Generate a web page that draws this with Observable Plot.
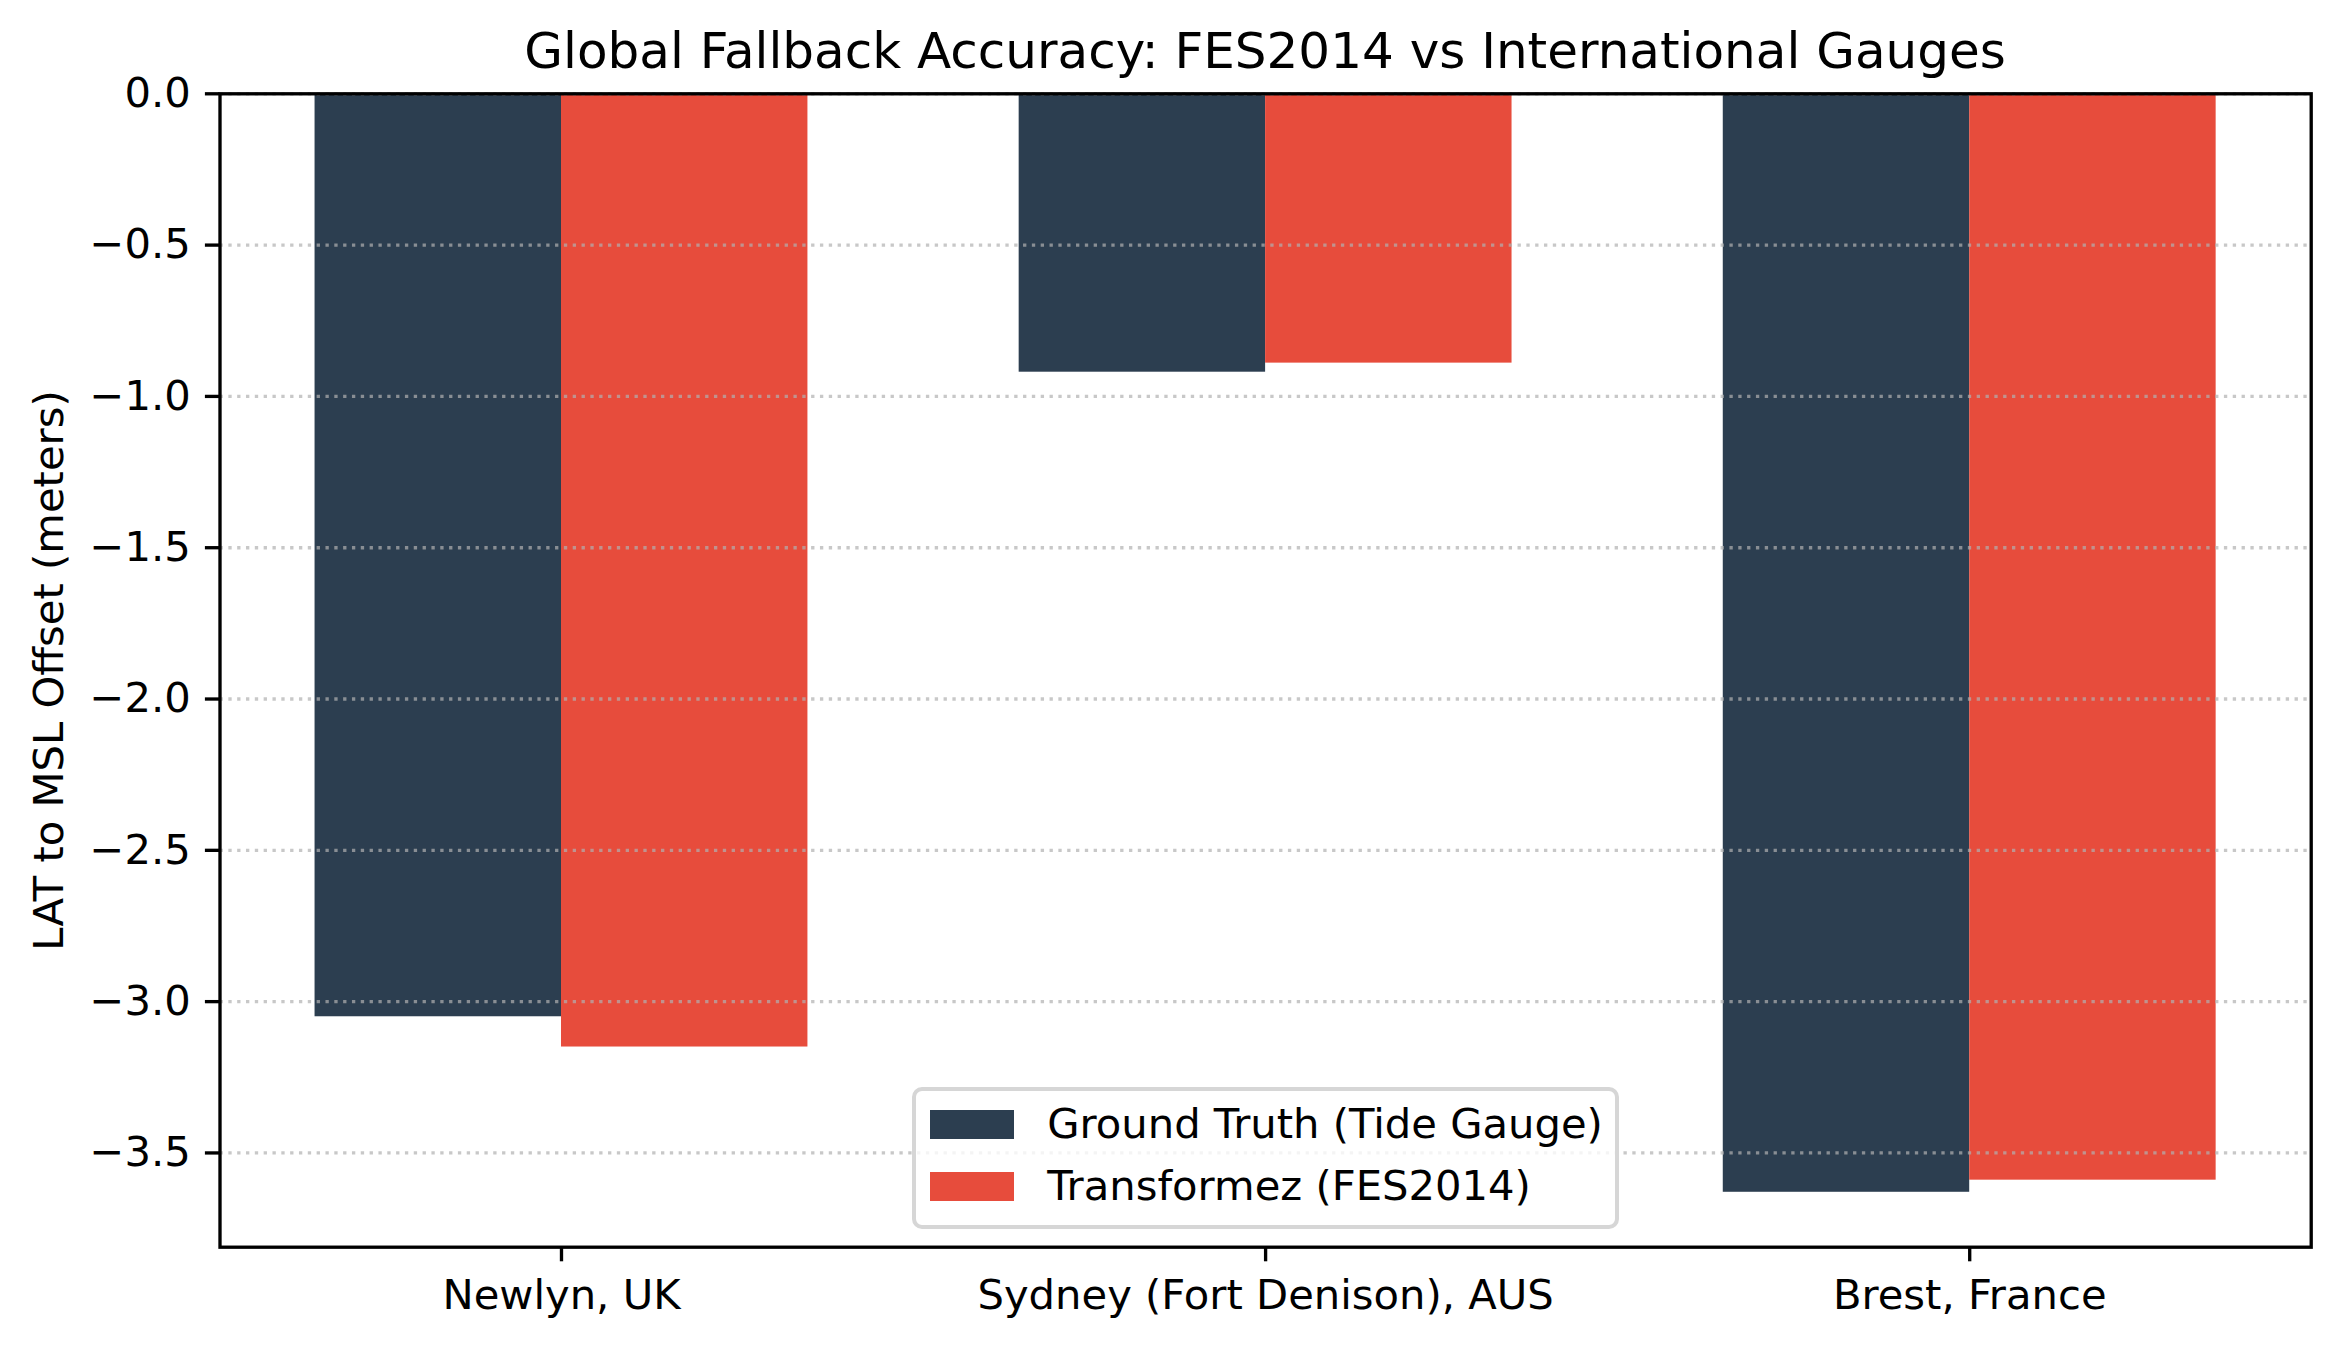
<!DOCTYPE html>
<html>
<head>
<meta charset="utf-8">
<script src="https://cdn.jsdelivr.net/npm/d3@7"></script>
<script src="https://cdn.jsdelivr.net/npm/@observablehq/plot@0.6"></script>
<style>
  html, body { margin: 0; padding: 0; background: #fff; }
  body { width: 2341px; height: 1349px; overflow: hidden; font-family: "DejaVu Sans", sans-serif; color: #000; }
  #chart { position: relative; width: 2341px; height: 1349px; }
  .title {
    box-sizing: border-box; height: 80px; margin-left: 219.5px; width: 2091.2px;
    padding-top: 26px; text-align: center; font-size: 50px; line-height: 50px; white-space: nowrap;
  }
  .legend {
    position: absolute; left: 911.9px; top: 1087.2px; width: 707.2px; height: 141.6px;
    box-sizing: border-box; border: 4.17px solid #d6d6d6; border-radius: 10px;
    background: rgba(255, 255, 255, 0.8);
  }
  .legend .swatch { position: absolute; left: 14.6px; width: 83.4px; height: 29.2px; }
  .legend .label { position: absolute; left: 131.4px; font-size: 41.7px; line-height: 41.7px; white-space: nowrap; }
</style>
</head>
<body>
<div id="chart">
  <div class="title">Global Fallback Accuracy: FES2014 vs International Gauges</div>
</div>
<script>
// Tide gauge stations
const stations = ["Newlyn, UK", "Sydney (Fort Denison), AUS", "Brest, France"];
// LAT to MSL offsets (m) from the gauges and from the FES2014 fallback
const groundTruth = [-3.05, -0.92, -3.63];
const transformez = [-3.15, -0.89, -3.59];
const seriesNames = ["Ground Truth (Tide Gauge)", "Transformez (FES2014)"];
const seriesColors = ["#2c3e50", "#e74c3c"];
const yTicks = [0, -0.5, -1.0, -1.5, -2.0, -2.5, -3.0, -3.5];
const yLabel = "LAT to MSL Offset (meters)";

const barWidth = 0.35;
const seriesValues = [groundTruth, transformez];

// Long-format rows: each station gets a side-by-side pair of bars
const rows = [];
stations.forEach((station, i) => {
  seriesNames.forEach((series, k) => {
    const x1 = i + (k - 1) * barWidth;
    rows.push({station, series, value: seriesValues[k][i], x1, x2: x1 + barWidth});
  });
});

const allValues = rows.map(d => d.value);
const span = (stations.length - 1) + 2 * barWidth;
const xPad = 0.05 * span;

const plot = Plot.plot({
  width: 2341,
  height: 1269,
  marginTop: 13.3,
  marginBottom: 102.3,
  marginLeft: 219.5,
  marginRight: 30.3,
  style: {fontFamily: "'DejaVu Sans', sans-serif", fontSize: "41.7px", background: "#fff", color: "#000", overflow: "visible"},
  x: {domain: [-barWidth - xPad, stations.length - 1 + barWidth + xPad]},
  y: {domain: [d3.min(allValues) * 1.05, 0]},
  color: {domain: seriesNames, range: seriesColors},
  marks: [
    Plot.rect(rows, {x1: "x1", x2: "x2", y1: () => 0, y2: "value", fill: "series"}),
    Plot.gridY(yTicks, {stroke: "#b0b0b0", strokeOpacity: 0.7, strokeWidth: 3.33, strokeDasharray: "3.33,5.5"}),
    Plot.axisY(yTicks, {
      tickSize: 14.6, tickPadding: 14.6, strokeWidth: 3.33,
      tickFormat: d3.format(".1f"), label: null, fontSize: 41.7
    }),
    Plot.axisX(stations.map((_, i) => i), {
      tickSize: 14.6, tickPadding: 17.5, strokeWidth: 3.33,
      tickFormat: i => stations[i], label: null, fontSize: 41.7
    }),
    Plot.text([yLabel], {
      text: d => d, frameAnchor: "left", textAnchor: "middle",
      rotate: -90, dx: -170.5, fontSize: 41.7
    }),
    Plot.frame({stroke: "#000", strokeWidth: 3.33})
  ]
});

const chart = document.getElementById("chart");
chart.appendChild(plot);

// Legend box in the lower centre of the axes
const color = plot.scale("color");
const legend = document.createElement("div");
legend.className = "legend";
const swatchTops = [18.4, 80.4];
const labelTops = [12.3, 74.0];
seriesNames.forEach((name, k) => {
  const sw = document.createElement("div");
  sw.className = "swatch";
  sw.style.top = swatchTops[k] + "px";
  sw.style.background = color.range[color.domain.indexOf(name)];
  legend.appendChild(sw);
  const lb = document.createElement("div");
  lb.className = "label";
  lb.style.top = labelTops[k] + "px";
  lb.textContent = name;
  legend.appendChild(lb);
});
chart.appendChild(legend);
</script>
</body>
</html>
